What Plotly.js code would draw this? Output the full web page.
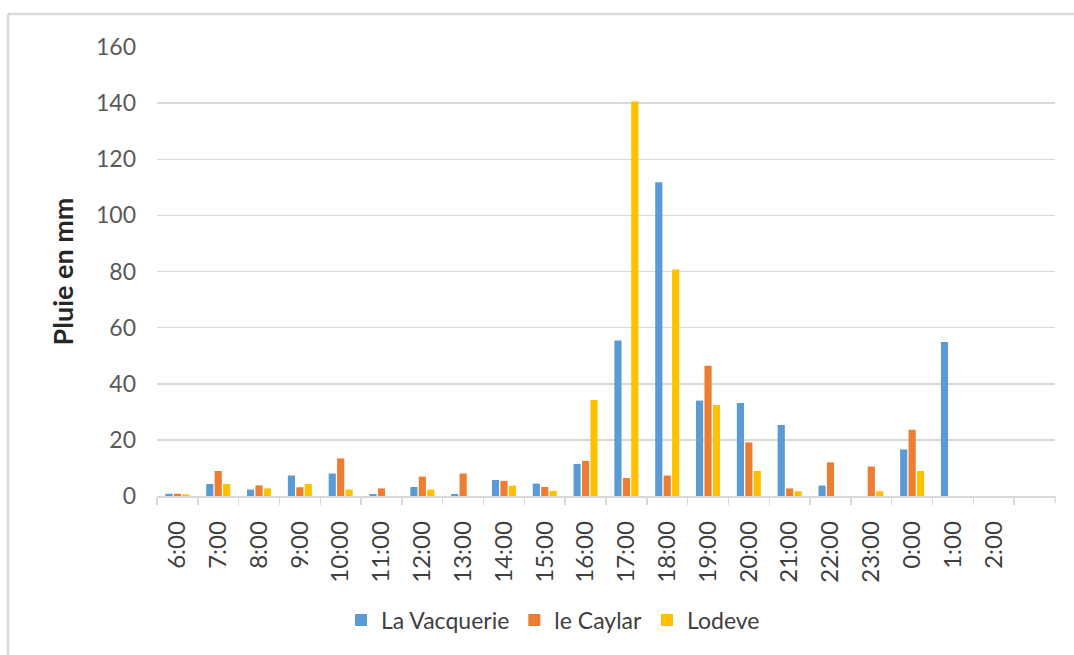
<!DOCTYPE html>
<html>
<head>
<meta charset="utf-8">
<script src="https://cdn.plot.ly/plotly-3.0.1.min.js"></script>
<style>html,body{margin:0;padding:0;background:#fff;}#chart{width:1074px;height:655px;}</style>
</head>
<body>
<div id="chart"></div>
<script>
const hours = ["6:00","7:00","8:00","9:00","10:00","11:00","12:00","13:00","14:00","15:00","16:00","17:00","18:00","19:00","20:00","21:00","22:00","23:00","0:00","1:00","2:00"];
const laVacquerie = [0.8, 4.3, 2.3, 7.3, 8.0, 0.7, 3.2, 0.7, 5.7, 4.4, 11.4, 55.4, 111.8, 34.0, 33.1, 25.3, 3.7, 0, 16.6, 54.9, 0];
const leCaylar    = [0.8, 8.9, 3.8, 3.1, 13.4, 2.7, 6.9, 8.0, 5.4, 3.2, 12.5, 6.4, 7.3, 46.4, 19.1, 2.7, 12.0, 10.5, 23.6, 0, 0];
const lodeve      = [0.6, 4.3, 2.7, 4.3, 2.3, 0, 2.3, 0, 3.7, 1.8, 34.2, 140.6, 80.7, 32.4, 8.9, 1.7, 0, 1.7, 8.9, 0, 0];
const seriesNames = ["La Vacquerie", "le Caylar", "Lodeve"];
const colors = ["#5B9BD5", "#ED7D31", "#FFC000"];
const yTicks = [0, 20, 40, 60, 80, 100, 120, 140, 160];

const values = [laVacquerie, leCaylar, lodeve];
const data = values.map((v, i) => ({
  type: "bar", x: hours, y: v, name: seriesNames[i],
  marker: {color: colors[i]}, hoverinfo: "x+y+name"
}));

const font = "Lato, 'Open Sans', sans-serif";
const L = 157, R = 1055, T = 47, B = 496;
const px = x => (x - L) / (R - L);
const py = y => (B - y) / (B - T);
const layout = {
  width: 1074, height: 655,
  margin: {l: L, r: 1074 - R, t: T, b: 655 - B},
  paper_bgcolor: "#fff", plot_bgcolor: "#fff",
  barmode: "group", bargap: 0.38, bargroupgap: 0.15,
  font: {family: font, color: "#595959"},
  showlegend: true,
  legend: {orientation: "h", x: px(553), xanchor: "center", y: py(620), yanchor: "middle",
           font: {size: 23, color: "#404040", family: font}, itemwidth: 30, traceorder: "normal"},
  xaxis: {
    type: "category", range: [-0.5, 21.5], tickangle: -90,
    tickfont: {size: 24, color: "#404040", family: font},
    ticks: "outside", tickson: "boundaries", ticklen: 7, tickcolor: "#d9d9d9", tickwidth: 1.5,
    ticklabelstandoff: 14,
    showline: true, linecolor: "#d9d9d9", linewidth: 1.5,
    showgrid: false, fixedrange: true
  },
  yaxis: {
    range: [0, 160], tickvals: yTicks, ticktext: yTicks.map(String),
    tickfont: {size: 23, color: "#595959", family: font},
    showgrid: true, gridcolor: "#d9d9d9", gridwidth: 1.5,
    zeroline: false, showline: false, ticks: "", ticklabelstandoff: 20,
    title: {text: "Pluie en mm", font: {size: 27, color: "#262626", family: font, weight: "bold"}, standoff: 14},
    fixedrange: true
  },
  shapes: [
    {type: "line", xref: "paper", yref: "paper", x0: px(8), x1: px(1074), y0: py(14), y1: py(14), line: {color: "#d9d9d9", width: 2.5}},
    {type: "line", xref: "paper", yref: "paper", x0: px(8), x1: px(8), y0: py(14), y1: py(660), line: {color: "#d9d9d9", width: 2.5}},
    {type: "line", xref: "paper", yref: "paper", x0: 1, x1: 1, y0: 0, y1: py(503), line: {color: "#d9d9d9", width: 1.5}}
  ]
};
Plotly.newPlot("chart", data, layout, {displayModeBar: false, staticPlot: true});
</script>
</body>
</html>
